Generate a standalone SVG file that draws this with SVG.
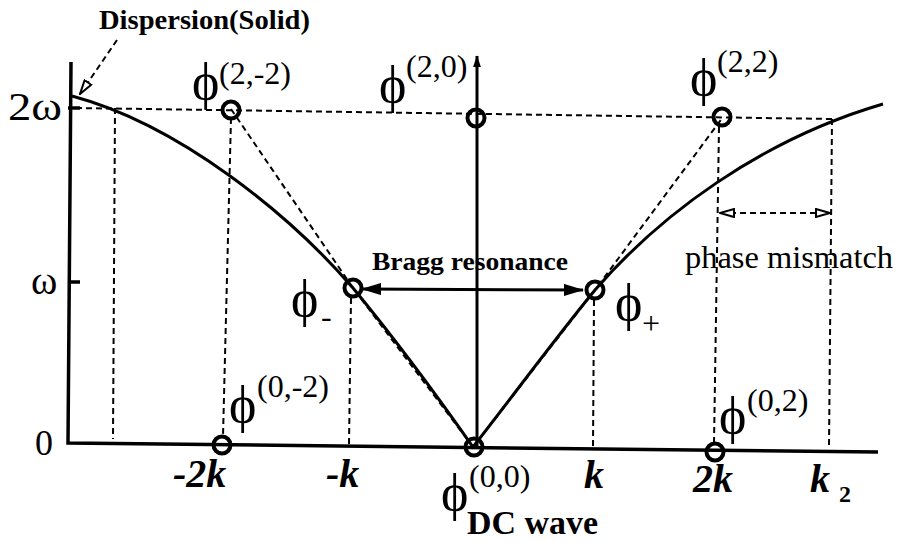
<svg xmlns="http://www.w3.org/2000/svg" width="898" height="542" viewBox="0 0 898 542">
<defs>
<marker id="fillb" markerWidth="20" markerHeight="12" refX="19" refY="6" orient="auto-start-reverse" markerUnits="userSpaceOnUse"><path d="M0,0 L20,6 L0,12 Z" fill="#000"/></marker>
<marker id="ah" markerWidth="12" markerHeight="18" refX="17" refY="6" orient="auto" markerUnits="userSpaceOnUse" viewBox="0 0 18 12"><path d="M0,0 L18,6 L0,12 Z" fill="#000"/></marker>
<marker id="open" markerWidth="16" markerHeight="10" refX="15" refY="5" orient="auto-start-reverse" markerUnits="userSpaceOnUse"><path d="M1,1 L15,5 L1,9 Z" fill="#fff" stroke="#000" stroke-width="2"/></marker>
</defs>
<style>
.ax{stroke:#000;stroke-width:3.5;fill:none}
.cv{stroke:#000;stroke-width:3;fill:none}
.dl{stroke:#000;stroke-width:2;stroke-dasharray:6,4;fill:none}
.pt{stroke:#000;stroke-width:4;fill:none}
text{font-family:'Liberation Serif','DejaVu Serif',serif;fill:#000}
.phi{font-size:52px}
.sup{font-size:32px}
.b{font-weight:bold}
.bi{font-weight:bold;font-style:italic;font-size:40px}
</style>
<rect width="898" height="542" fill="#fff"/>
<g id="axes">
<path class="ax" d="M71,62 L68,443 L878,452"/>
<path class="ax" d="M68,108 L80,108 M68,282 L80,282"/>
</g>
<g id="connectors">
<path class="dl" d="M76,108 L832,119"/>
<path class="dl" d="M115,108 L113,439"/>
<path class="dl" d="M231,118 L223,436"/>
<path class="dl" d="M351,298 L349,445"/>
<path class="dl" d="M594,300 L593,448"/>
<path class="dl" d="M719,127 L714,443"/>
<path class="dl" d="M832,119 L829,447"/>
<path class="dl" d="M231,109 L353,288 L473,447 L595,290 L723,117"/>
<path class="dl" d="M117,40 L80,94" marker-end="url(#open)"/>
<path class="dl" d="M720,213 L830,213" marker-start="url(#open)" marker-end="url(#open)"/>
<path d="M477,447 L477,56" stroke="#000" stroke-width="3" marker-end="url(#ah)"/>
<path d="M362,289 L583,290" stroke="#000" stroke-width="3" marker-start="url(#fillb)" marker-end="url(#fillb)"/>
<path class="cv" d="M72,96 C180,125 290,215 353,288 C400,345 440,400 473,447 C510,400 550,345 595,290 C660,215 760,140 883,104"/>
</g>
<g id="n22m"><circle class="pt" cx="231" cy="110" r="8.5"/><text class="phi" x="192" y="99">ϕ</text><text class="sup" x="219" y="84">(2,-2)</text></g>
<g id="n20"><circle class="pt" cx="476" cy="118" r="8.5"/><text class="phi" x="379" y="102">ϕ</text><text class="sup" x="406" y="77">(2,0)</text></g>
<g id="n22"><circle class="pt" cx="722" cy="117" r="8.5"/><text class="phi" x="690" y="95">ϕ</text><text class="sup" x="717" y="72">(2,2)</text></g>
<g id="nminus"><circle class="pt" cx="353" cy="288" r="8.5"/><text class="phi" x="291" y="316">ϕ</text><text class="sup" x="321" y="327">-</text></g>
<g id="nplus"><circle class="pt" cx="595" cy="290" r="8.5"/><text class="phi" x="615" y="320">ϕ</text><text class="sup" x="642" y="334">+</text></g>
<g id="n00"><circle class="pt" cx="474" cy="447" r="8.5"/><text class="phi" x="441" y="510">ϕ</text><text class="sup" x="469" y="487">(0,0)</text><text class="b" x="467" y="534" font-size="34" textLength="131" lengthAdjust="spacingAndGlyphs">DC wave</text></g>
<g id="n02m"><circle class="pt" cx="222" cy="445" r="8.5"/><text class="phi" x="229" y="422">ϕ</text><text class="sup" x="257" y="397">(0,-2)</text></g>
<g id="n02"><circle class="pt" cx="715" cy="452" r="8.5"/><text class="phi" x="719" y="433">ϕ</text><text class="sup" x="747" y="411">(0,2)</text></g>
<g id="labels">
<text class="b" x="99" y="29" font-size="28" textLength="211" lengthAdjust="spacingAndGlyphs">Dispersion(Solid)</text>
<text x="8" y="120" font-size="40" textLength="54" lengthAdjust="spacingAndGlyphs">2ω</text>
<text x="31" y="294" font-size="40">ω</text>
<text x="35" y="455" font-size="36">0</text>
<text class="bi" x="173" y="487">-2k</text>
<text class="bi" x="326" y="487">-k</text>
<text class="bi" x="584" y="488">k</text>
<text class="bi" x="693" y="492">2k</text>
<text class="bi" x="810" y="492">k</text>
<text class="b" x="839" y="502" font-size="24">2</text>
<text class="b" x="372" y="270" font-size="26" textLength="196" lengthAdjust="spacingAndGlyphs">Bragg resonance</text>
<text x="685" y="268" font-size="32" textLength="208" lengthAdjust="spacingAndGlyphs">phase mismatch</text>
</g>
</svg>
